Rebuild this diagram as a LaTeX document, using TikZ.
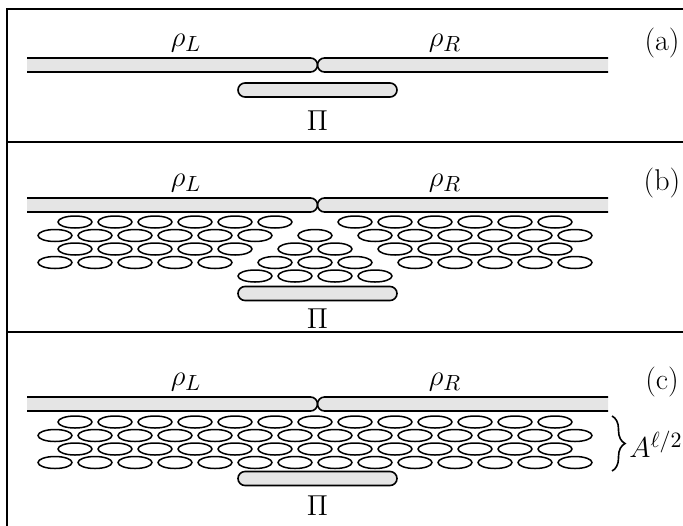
\documentclass[tikz,border=0pt]{standalone}
\usetikzlibrary{positioning,shapes.misc,decorations.pathreplacing}

% the two half chains of one panel, #1 = upper edge
\newcommand{\chainpair}[1]{
  \fill[barfill] (27,#1) -- (310.5,#1) arc[start angle=-90,end angle=90,radius=7] -- (27,#1+14) -- cycle;
  \fill[barfill] (608,#1) -- (324.5,#1) arc[start angle=270,end angle=90,radius=7] -- (608,#1+14) -- cycle;
  \draw[barline] (27,#1) -- (310.5,#1) arc[start angle=-90,end angle=90,radius=7] -- (27,#1+14);
  \draw[barline] (608,#1) -- (324.5,#1) arc[start angle=270,end angle=90,radius=7] -- (608,#1+14);
}

\begin{document}
\begin{tikzpicture}[x=0.5pt,y=-0.5pt,font=\fontsize{15}{18}\selectfont,
  barfill/.style={fill=gray!20},
  barline/.style={line width=0.8pt},
  cell/.style={draw,line width=0.75pt},
  pibar/.style={rounded rectangle,draw,fill=gray!20,line width=0.8pt,
    minimum width=79.5pt,minimum height=7pt,inner sep=0pt},
  pilab/.style={inner sep=0pt},
  frame/.style={line width=1.4pt}]
\useasboundingbox (0,0) rectangle (683,525);
\clip (0,0) rectangle (683,525);
\draw[frame] (7,9) rectangle (720,560);
\draw[frame] (7,142) -- (720,142);
\draw[frame] (7,332) -- (720,332);

% (a)
\chainpair{58}
\node[pibar] (pia) at (317.5,90) {};
\node[pilab] (pilaba) [below=6.5pt of pia] {$\Pi$};
\node (rla) at (186,43) {$\rho_L$};
\node (rra) at (445,43) {$\rho_R$};
\node (taga) at (662,43) {(a)};

% (b)
\chainpair{198}
\foreach \k in {0,1,2,3,4,5,7,8,9,10,11,12}
  \path[cell] (75+40*\k,222) ellipse [x radius=17,y radius=6];
\foreach \k in {0,1,2,3,4,5,8,9,10,11,12,13}
  \path[cell] (55+40*\k,235.5) ellipse [x radius=17,y radius=6];
\foreach \k in {0,1,2,3,4,8,9,10,11,12}
  \path[cell] (75+40*\k,249) ellipse [x radius=17,y radius=6];
\foreach \k in {0,1,2,3,4,9,10,11,12,13}
  \path[cell] (55+40*\k,262.5) ellipse [x radius=17,y radius=6];
%\foreach \k in {6}
\path[cell] (315,235.5) ellipse [x radius=17,y radius=6];
\foreach \k in {6,7}
  \path[cell] (55+40*\k,249) ellipse [x radius=17,y radius=6];
\foreach \k in {5,6,7}
  \path[cell] (75+40*\k,262.5) ellipse [x radius=17,y radius=6];
\foreach \k in {5,6,7,8}
  \path[cell] (55+40*\k,276) ellipse [x radius=17,y radius=6];
\node[pibar] (pib) at (317.5,293.5) {};
\node[pilab] (pilabb) [below=3.6pt of pib] {$\Pi$};
\node (rlb) at (186,183) {$\rho_L$};
\node (rrb) at (445,183) {$\rho_R$};
\node (tagb) at (662,183) {(b)};

% (c)
\chainpair{397}
\foreach \y in {422,449}
  \foreach \k in {0,...,12}
    \path[cell] (75+40*\k,\y) ellipse [x radius=17,y radius=6];
\foreach \y in {435.5,462.5}
  \foreach \k in {0,...,13}
    \path[cell] (55+40*\k,\y) ellipse [x radius=17,y radius=6];
\node[pibar] (pic) at (317.5,478.5) {};
\node[pilab] (pilabc) [below=4.4pt of pic] {$\Pi$};
\node (rlc) at (186,382) {$\rho_L$};
\node (rrc) at (445,382) {$\rho_R$};
\node (tagc) at (662,382) {(c)};
\draw[barline,decorate,decoration={brace,amplitude=6.5pt}] (612,416) -- (612,471);
\node[anchor=west,inner sep=1pt] (apow) at (627,444) {$A^{\ell/2}$};
\end{tikzpicture}
\end{document}
